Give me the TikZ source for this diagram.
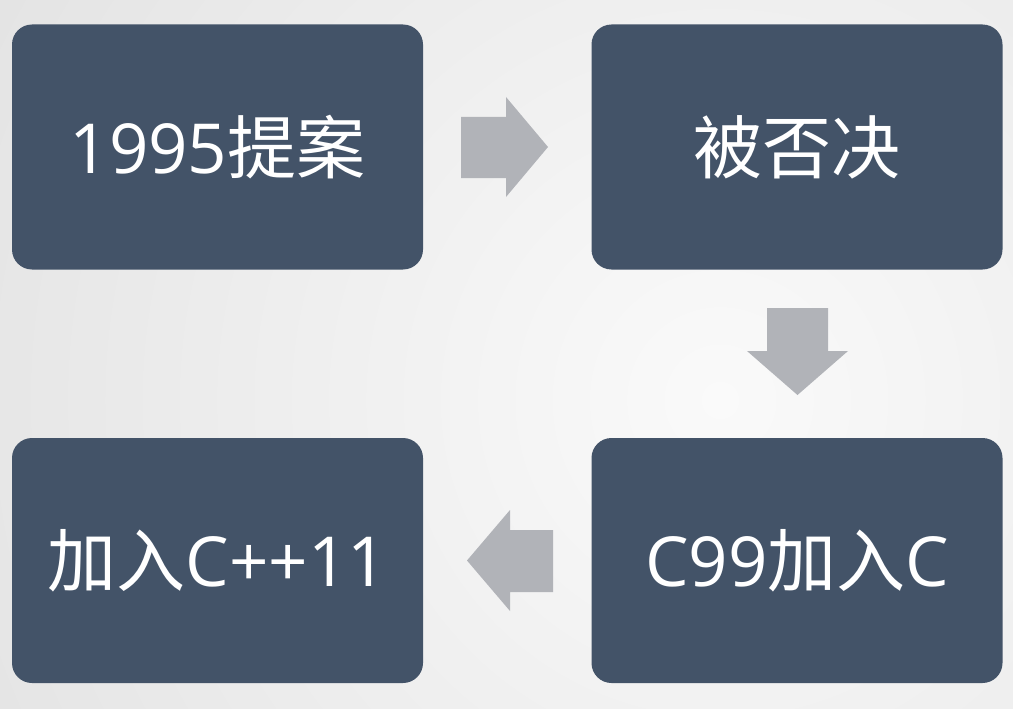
\documentclass[tikz,border=0pt]{standalone}
\usepackage{fontspec}
\setmainfont{Open Sans}
\newfontfamily\cjk{Noto Sans CJK SC}
\usetikzlibrary{positioning}
\definecolor{boxblue}{HTML}{435368}
\definecolor{arrowgray}{HTML}{B1B3B8}
\definecolor{bgouter}{HTML}{E4E4E4}
\definecolor{bginner}{HTML}{FAFAFA}
\tikzset{
  stagebox/.style={fill=boxblue, draw=none, rounded corners=20pt,
    minimum width=411pt, minimum height=245pt, inner sep=0pt,
    text=white, font=\fontsize{69}{80}\selectfont},
  blockarrow/.style={fill=arrowgray, draw=none}
}
\begin{document}
\begin{tikzpicture}[x=1pt,y=-1pt]
\useasboundingbox (0,0) rectangle (1013,709);
\begin{scope}
  \clip (0,0) rectangle (1013,709);
  \fill[bgouter] (0,0) rectangle (1013,709);
  \shade[inner color=bginner, outer color=bgouter] (720,400) circle (820pt);
\end{scope}
\node[stagebox] (a) at (217.5,147) {1995{\cjk 提案}};
\node[stagebox] (b) at (797,147) {{\cjk 被否决}};
\node[stagebox] (c) at (797,560.5) {C99{\cjk 加入}C};
\node[stagebox] (d) at (217.5,560.5) {{\cjk 加入}C++11};
% right arrow
\fill[blockarrow] (461,117) -- (506,117) -- (506,97) -- (548,147) -- (506,197) -- (506,178) -- (461,178) -- cycle;
% down arrow
\fill[blockarrow] (767,308) -- (828,308) -- (828,351) -- (848,351) -- (797.5,395) -- (747,351) -- (767,351) -- cycle;
% left arrow
\fill[blockarrow] (553,530) -- (510,530) -- (510,510) -- (467,560.5) -- (510,611) -- (510,592) -- (553,592) -- cycle;
\end{tikzpicture}
\end{document}
